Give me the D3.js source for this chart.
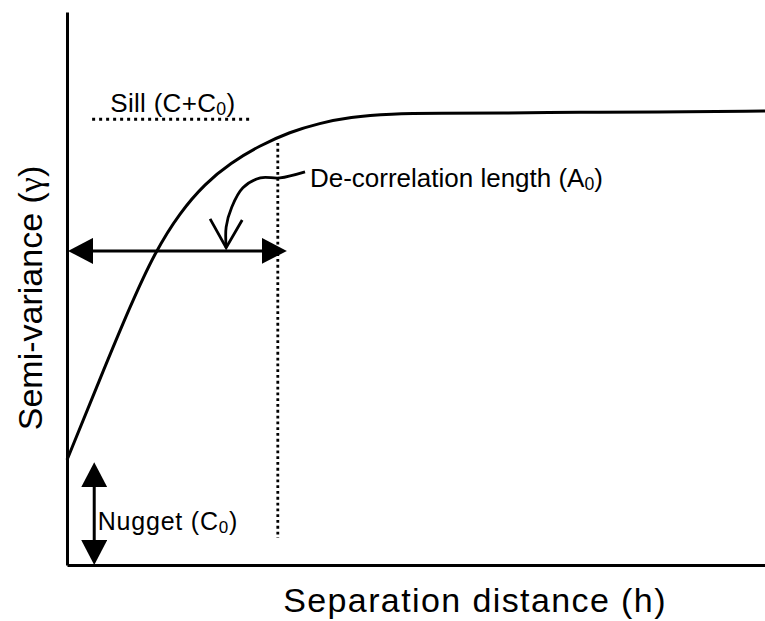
<!DOCTYPE html>
<html>
<head>
    <title>Semi-variogram</title>
    <script src="https://d3js.org/d3.v7.min.js"></script>
    <style>
        body { margin: 0; background: #fff; }
        text { font-family: Arial, "Liberation Sans", sans-serif; fill: #000; }
    </style>
</head>
<body>
<script>
    // semi-variogram curve (x: 0-100, y: 0-100)
    const curveX = [0, 4.7, 9.0, 12.6, 16.2, 19.8, 23.4, 27.7, 31.9, 36.2, 40.5, 46.3, 53.4, 62.0, 73.9, 83.5, 100];
    const curveY = [19.0, 33.6, 46.7, 56.6, 63.8, 69.0, 72.7, 75.9, 78.3, 79.9, 81.0, 81.6, 81.7, 81.7, 81.9, 81.9, 82.1];

    const nugget = 18.6;      // top of the nugget arrow
    const nuggetX = 3.9;
    const rangeX = 31.5;      // tip of the range arrow
    const rangeY = 56.8;      // height of the range arrow
    const rangeLine = 30.2;   // dotted vertical line
    const rangeLineTop = 76.3;
    const rangeLineBottom = 4.9;
    const sillY = 80.6;
    const sillX = [3.6, 26.2];

    // callout arrow from the "De-correlation length" label
    const calloutX = [34.1, 30.5, 27.7, 25.2, 23.6, 22.8, 22.8];
    const calloutY = [71.1, 70.0, 70.0, 68.2, 64.7, 61.1, 57.4];
    const headX = [20.5, 22.8, 25.1];
    const headY = [62.6, 57.4, 62.4];

    const width = 765;
    const height = 621;

    const x = d3.scaleLinear().domain([0, 100]).range([67, 765]);
    const y = d3.scaleLinear().domain([0, 100]).range([565, 12]);

    const svg = d3.select("body")
        .append("svg")
        .attr("width", width)
        .attr("height", height);

    // arrow heads
    const defs = svg.append("defs");
    defs.append("marker")
        .attr("id", "head")
        .attr("markerUnits", "userSpaceOnUse")
        .attr("viewBox", "0 0 25 26")
        .attr("refX", 15)
        .attr("refY", 13)
        .attr("markerWidth", 25)
        .attr("markerHeight", 26)
        .attr("orient", "auto-start-reverse")
        .append("path")
        .attr("d", "M0,0L25,13L0,26Z")
        .attr("fill", "#000");

    // axes, no ticks
    svg.append("g")
        .attr("transform", "translate(0," + y(0) + ")")
        .call(d3.axisBottom(x).ticks(0).tickSizeOuter(0))
        .select(".domain").attr("stroke-width", 3);
    svg.append("g")
        .attr("transform", "translate(" + x(0) + ",0)")
        .call(d3.axisLeft(y).ticks(0).tickSizeOuter(0))
        .select(".domain").attr("stroke-width", 3);

    // dotted lines
    svg.append("line")
        .attr("x1", x(sillX[0])).attr("x2", x(sillX[1]))
        .attr("y1", y(sillY)).attr("y2", y(sillY))
        .attr("stroke", "#000")
        .attr("stroke-width", 3)
        .attr("stroke-dasharray", "3,4");
    svg.append("line")
        .attr("x1", x(rangeLine)).attr("x2", x(rangeLine))
        .attr("y1", y(rangeLineTop)).attr("y2", y(rangeLineBottom))
        .attr("stroke", "#000")
        .attr("stroke-width", 2.8)
        .attr("stroke-dasharray", "2.8,3");

    // main curve
    svg.append("path")
        .datum(curveX.map((v, i) => [v, curveY[i]]))
        .attr("d", d3.line().x(d => x(d[0])).y(d => y(d[1])).curve(d3.curveBasis))
        .attr("fill", "none")
        .attr("stroke", "#000")
        .attr("stroke-width", 3);

    // range arrow (line ends pulled in 10px, marker puts the tip back)
    svg.append("line")
        .attr("x1", x(0) + 11).attr("x2", x(rangeX) - 10)
        .attr("y1", y(rangeY)).attr("y2", y(rangeY))
        .attr("stroke", "#000")
        .attr("stroke-width", 3)
        .attr("marker-start", "url(#head)")
        .attr("marker-end", "url(#head)");

    // nugget arrow
    svg.append("line")
        .attr("x1", x(nuggetX)).attr("x2", x(nuggetX))
        .attr("y1", y(0) - 10).attr("y2", y(nugget) + 10)
        .attr("stroke", "#000")
        .attr("stroke-width", 3)
        .attr("marker-start", "url(#head)")
        .attr("marker-end", "url(#head)");

    // callout
    svg.append("path")
        .datum(calloutX.map((v, i) => [v, calloutY[i]]))
        .attr("d", d3.line().x(d => x(d[0])).y(d => y(d[1])).curve(d3.curveCatmullRom))
        .attr("fill", "none")
        .attr("stroke", "#000")
        .attr("stroke-width", 2.8);
    svg.append("path")
        .datum(headX.map((v, i) => [v, headY[i]]))
        .attr("d", d3.line().x(d => x(d[0])).y(d => y(d[1])))
        .attr("fill", "none")
        .attr("stroke", "#000")
        .attr("stroke-width", 2.8);

    // labels with subscript 0
    function subLabel(tx, ty, before, after, size, spacing) {
        const t = svg.append("text")
            .attr("x", tx).attr("y", ty)
            .style("font-size", size + "px")
            .style("letter-spacing", spacing + "px");
        t.append("tspan").text(before);
        t.append("tspan").attr("dy", 3).style("font-size", (size * 0.68) + "px").text("0");
        t.append("tspan").attr("dy", -3).text(after);
        return t;
    }

    subLabel(x(6.2), y(82.0), "Sill (C+C", ")", 26, 0.3);
    subLabel(x(34.8), y(68.4), "De-correlation length (A", ")", 26, 0);
    subLabel(x(4.4), y(6.3), "Nugget (C", ")", 25, 0.8);

    svg.append("text")
        .attr("x", 475)
        .attr("y", 612)
        .attr("text-anchor", "middle")
        .style("font-size", "34px")
        .style("letter-spacing", "1.4px")
        .text("Separation distance (h)");

    const yl = svg.append("text")
        .attr("transform", "translate(42,298) rotate(-90)")
        .attr("text-anchor", "middle")
        .style("font-size", "34px");
    yl.append("tspan").text("Semi-variance (");
    yl.append("tspan").style("font-family", "'Liberation Serif', serif").text("γ");
    yl.append("tspan").text(")");
</script>
</body>
</html>
